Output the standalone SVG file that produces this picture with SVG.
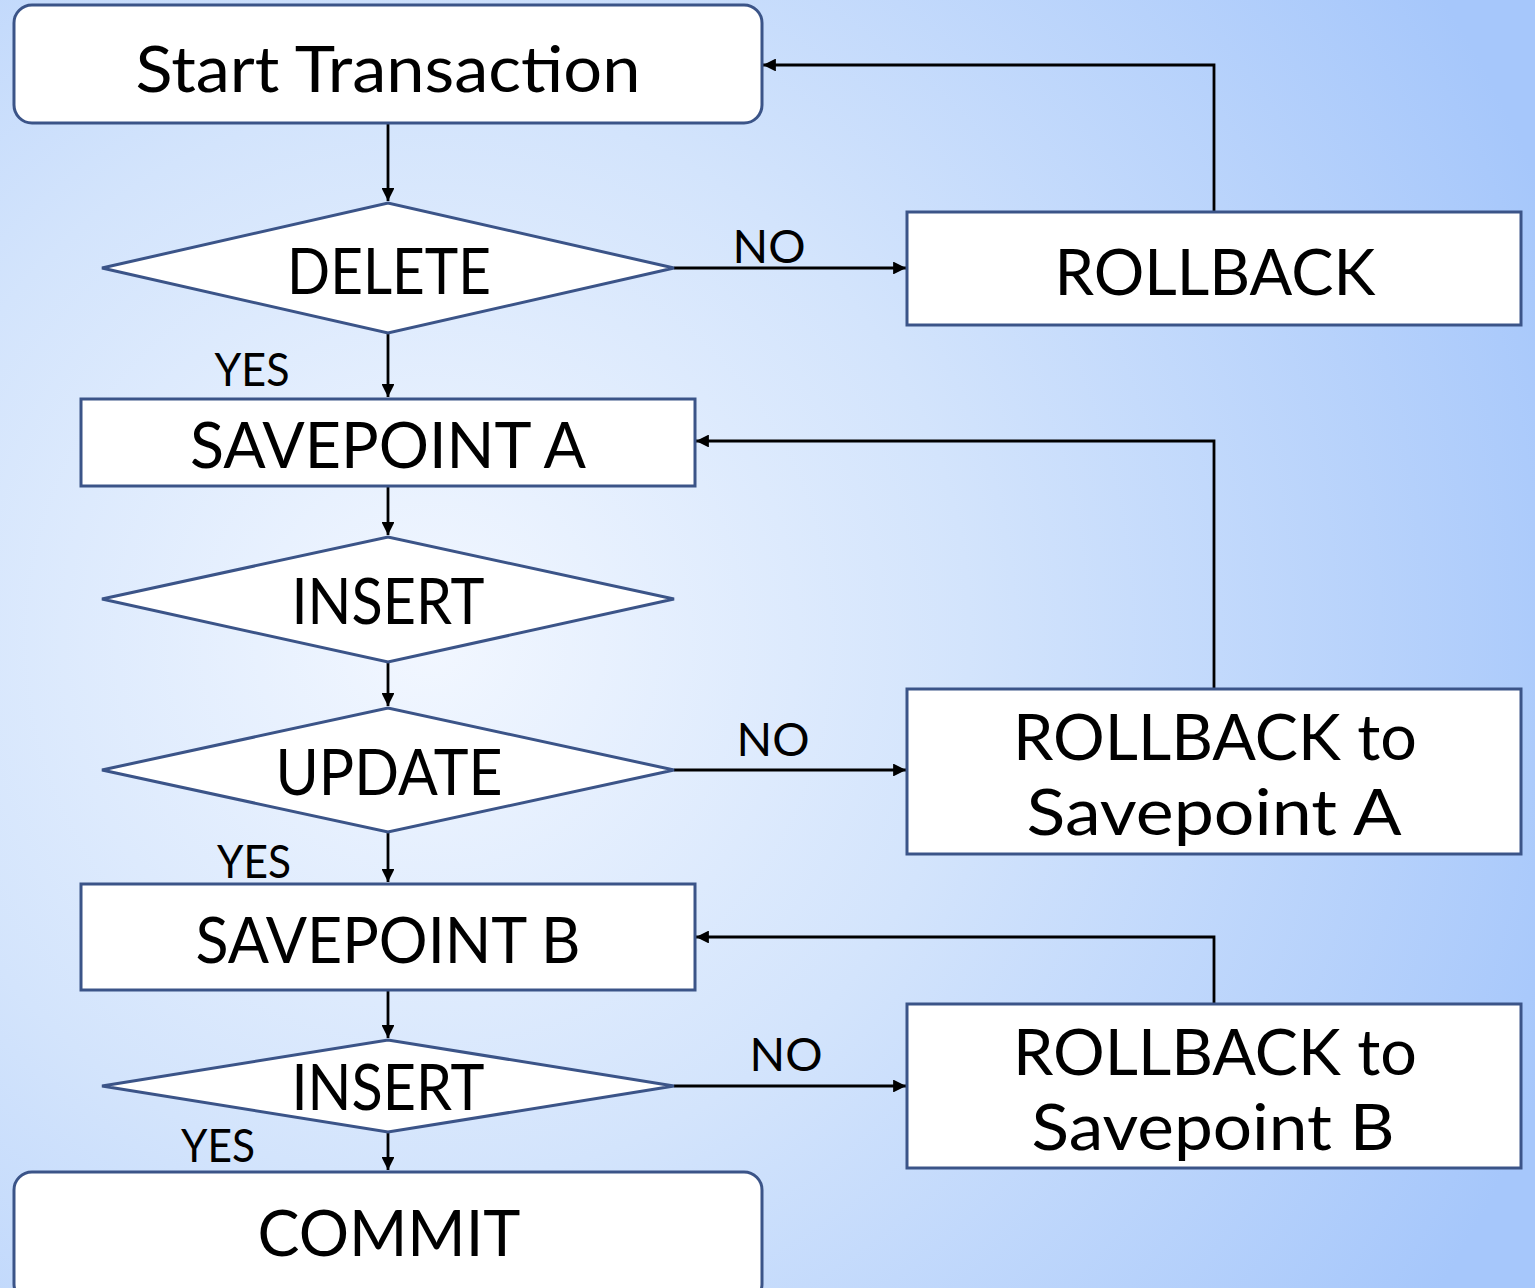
<svg xmlns="http://www.w3.org/2000/svg" width="1535" height="1288" viewBox="0 0 1535 1288">
  <defs>
    <radialGradient id="bg" cx="430" cy="640" r="1200" gradientUnits="userSpaceOnUse">
      <stop offset="0" stop-color="#f2f7ff"/>
      <stop offset="0.45" stop-color="#d3e4fc"/>
      <stop offset="1" stop-color="#a6c7fb"/>
    </radialGradient>
    <marker id="arrow" viewBox="0 0 10 10" refX="10" refY="5" markerWidth="5" markerHeight="4.6" orient="auto" markerUnits="strokeWidth">
      <path d="M0,0 L10,5 L0,10 z" fill="#000"/>
    </marker>
  </defs>
  <style>
    .box { fill: #ffffff; stroke: #3b5488; stroke-width: 3; }
    .label { font-family: Lato, "Liberation Sans", sans-serif; font-size: 64px; fill: #000; text-anchor: middle; }
    .tag { font-family: Lato, "Liberation Sans", sans-serif; font-size: 46px; fill: #000; text-anchor: middle; }
    .conn { fill: none; stroke: #000; stroke-width: 2.8; }
  </style>

  <rect x="0" y="0" width="1535" height="1288" fill="url(#bg)"/>

  <!-- connectors -->
  <g id="connectors">
    <path class="conn" d="M388,123 L388,201" marker-end="url(#arrow)"/>
    <path class="conn" d="M674,268 L906,268" marker-end="url(#arrow)"/>
    <path class="conn" d="M1214,212 L1214,65 L763,65" marker-end="url(#arrow)"/>
    <path class="conn" d="M388,333 L388,397" marker-end="url(#arrow)"/>
    <path class="conn" d="M388,486 L388,535" marker-end="url(#arrow)"/>
    <path class="conn" d="M388,662 L388,706" marker-end="url(#arrow)"/>
    <path class="conn" d="M674,770 L906,770" marker-end="url(#arrow)"/>
    <path class="conn" d="M1214,689 L1214,441 L696,441" marker-end="url(#arrow)"/>
    <path class="conn" d="M388,832 L388,882" marker-end="url(#arrow)"/>
    <path class="conn" d="M388,990 L388,1038" marker-end="url(#arrow)"/>
    <path class="conn" d="M674,1086 L906,1086" marker-end="url(#arrow)"/>
    <path class="conn" d="M1214,1004 L1214,937 L696,937" marker-end="url(#arrow)"/>
    <path class="conn" d="M388,1132 L388,1170" marker-end="url(#arrow)"/>

    <text class="tag" x="769" y="263" textLength="73" lengthAdjust="spacingAndGlyphs">NO</text>
    <text class="tag" x="773" y="756" textLength="73" lengthAdjust="spacingAndGlyphs">NO</text>
    <text class="tag" x="786" y="1071" textLength="73" lengthAdjust="spacingAndGlyphs">NO</text>
    <text class="tag" x="252" y="386" textLength="75" lengthAdjust="spacingAndGlyphs">YES</text>
    <text class="tag" x="254" y="878" textLength="74" lengthAdjust="spacingAndGlyphs">YES</text>
    <text class="tag" x="218" y="1162" textLength="74" lengthAdjust="spacingAndGlyphs">YES</text>
  </g>

  <!-- nodes -->
  <g id="start">
    <rect class="box" x="14" y="5" width="748" height="118" rx="18"/>
    <text class="label" x="388" y="92" textLength="505" lengthAdjust="spacingAndGlyphs">Start Transaction</text>
  </g>

  <g id="delete">
    <polygon class="box" points="102,268 388,203 674,268 388,333"/>
    <text class="label" x="389" y="294" textLength="204" lengthAdjust="spacingAndGlyphs">DELETE</text>
  </g>

  <g id="rollback">
    <rect class="box" x="907" y="212" width="614" height="113"/>
    <text class="label" x="1215" y="295" textLength="321" lengthAdjust="spacingAndGlyphs">ROLLBACK</text>
  </g>

  <g id="savepoint-a">
    <rect class="box" x="81" y="399" width="614" height="87"/>
    <text class="label" x="388" y="468" textLength="396" lengthAdjust="spacingAndGlyphs">SAVEPOINT A</text>
  </g>

  <g id="insert-1">
    <polygon class="box" points="102,599 388,537 674,599 388,662"/>
    <text class="label" x="388" y="624" textLength="193" lengthAdjust="spacingAndGlyphs">INSERT</text>
  </g>

  <g id="update">
    <polygon class="box" points="102,770 388,708 674,770 388,832"/>
    <text class="label" x="389" y="795" textLength="227" lengthAdjust="spacingAndGlyphs">UPDATE</text>
  </g>

  <g id="rollback-a">
    <rect class="box" x="907" y="689" width="614" height="165"/>
    <text class="label" x="1215" y="760" textLength="404" lengthAdjust="spacingAndGlyphs">ROLLBACK to</text>
    <text class="label" x="1214" y="835" textLength="375" lengthAdjust="spacingAndGlyphs">Savepoint A</text>
  </g>

  <g id="savepoint-b">
    <rect class="box" x="81" y="884" width="614" height="106"/>
    <text class="label" x="388" y="963" textLength="385" lengthAdjust="spacingAndGlyphs">SAVEPOINT B</text>
  </g>

  <g id="insert-2">
    <polygon class="box" points="102,1086 388,1040 674,1086 388,1132"/>
    <text class="label" x="388" y="1110" textLength="193" lengthAdjust="spacingAndGlyphs">INSERT</text>
  </g>

  <g id="rollback-b">
    <rect class="box" x="907" y="1004" width="614" height="164"/>
    <text class="label" x="1215" y="1075" textLength="404" lengthAdjust="spacingAndGlyphs">ROLLBACK to</text>
    <text class="label" x="1213" y="1150" textLength="363" lengthAdjust="spacingAndGlyphs">Savepoint B</text>
  </g>

  <g id="commit">
    <rect class="box" x="14" y="1172" width="748" height="130" rx="18"/>
    <text class="label" x="389" y="1256" textLength="263" lengthAdjust="spacingAndGlyphs">COMMIT</text>
  </g>
</svg>
